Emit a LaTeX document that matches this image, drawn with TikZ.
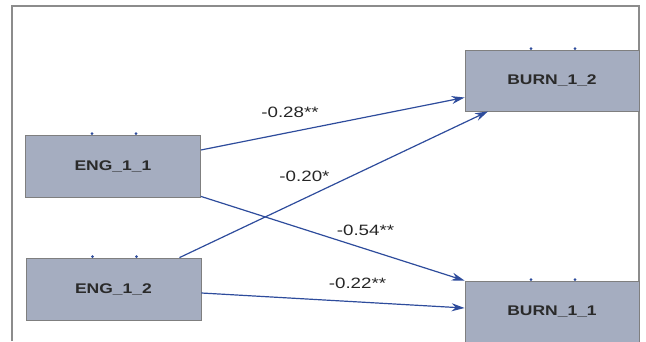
\documentclass[tikz,border=0pt]{standalone}
\usepackage{fontspec}
\setmainfont{Liberation Sans}
\setsansfont{Liberation Sans}
\usepackage{graphicx}
\usepackage{xcolor}
\usetikzlibrary{calc,arrows.meta}

% stretch text sideways like the source
\newcommand{\wide}[1]{\scalebox{1.25}[1]{#1}}

\begin{document}
\begin{tikzpicture}[x=1pt,y=1pt,font=\sffamily]

% --- colors ---
\definecolor{cBox}  {HTML}{A5ADC0}
\definecolor{cEdge} {HTML}{7F7F7F}
\definecolor{cPath} {HTML}{2E4C9C}
\definecolor{cText} {HTML}{2A2A2A}
\definecolor{cFrame}{HTML}{8C8C8C}

% --- styles ---
\tikzset{
  varbox/.style={draw=cEdge, fill=cBox, line width=0.8pt,
    minimum width=175pt, minimum height=62pt, inner sep=0pt,
    text=cText, font=\sffamily\bfseries\fontsize{14}{16}\selectfont},
  pathline/.style={draw=cPath, line width=1.2pt,
    -{Stealth[length=13pt,width=8pt]}},
  coef/.style={inner sep=0pt, text=black!85,
    font=\sffamily\fontsize{15}{17}\selectfont}
}

\useasboundingbox (0,0) rectangle (646,341);

% --- frame ---
\draw[cFrame, line width=1.2pt] (12,0) -- (12,335) -- (639,335) -- (639,11);

% --- variables ---
\node[varbox] (eng11) at (113,175) {\wide{ENG\_1\_1}};
\node[varbox] (eng12) at (113.5,52) {\wide{ENG\_1\_2}};
\node[varbox, minimum width=174pt, minimum height=61pt] (burn12) at (552,260.5) {\wide{BURN\_1\_2}};
\node[varbox, minimum width=174pt] (burn11) at (552,29) {\wide{BURN\_1\_1}};

% --- little marks on top edges ---
\foreach \nd in {eng11,eng12,burn12,burn11}{
  \foreach \dx in {-21,23}
    \fill[cPath] ($(\nd.north)+(\dx,1)$) circle (1.5pt);
}

% --- paths ---
\draw[pathline] ([yshift=16pt]eng11.east) -- ([yshift=-17pt]burn12.west);
\draw[pathline] ([xshift=66pt]eng12.north) -- ([xshift=-64pt]burn12.south);
\draw[pathline] ([yshift=1pt]eng11.south east) -- (burn11.north west);
\draw[pathline] ([yshift=-4pt]eng12.east) -- ([yshift=4pt]burn11.west);

% --- coefficients ---
\node[coef] (c1) at (290,229)   {\wide{-0.28**}};
\node[coef] (c2) at (304.5,164.5) {\wide{-0.20*}};
\node[coef] (c3) at (365.5,110.5) {\wide{-0.54**}};
\node[coef] (c4) at (357.5,58)  {\wide{-0.22**}};

\end{tikzpicture}
\end{document}
